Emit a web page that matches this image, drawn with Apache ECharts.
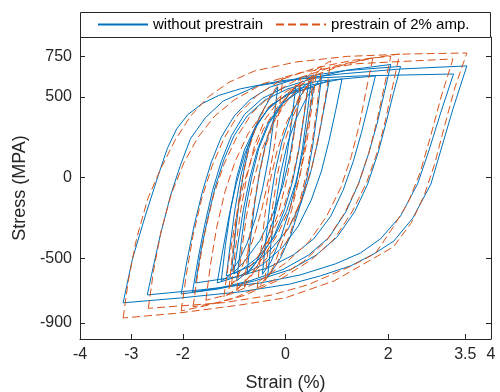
<!DOCTYPE html>
<html>
<head>
<meta charset="utf-8">
<script src="https://cdn.jsdelivr.net/npm/echarts@6/dist/echarts.min.js"></script>
<style>
  html, body { margin: 0; padding: 0; background: #fff; }
  #chart { width: 500px; height: 392px; }
</style>
</head>
<body>
<div id="chart"></div>
<script>
// tick labels
const xTicks = [-4, -3, -2, 0, 2, 3.5, 4];
const yTicks = [-900, -500, 0, 500, 750];
const names = ['without prestrain', 'prestrain of 2% amp.'];

// without prestrain: loops [strain %, stress MPa]
const blueLoop1 = [[-3.16,-776],[-2.98,-505],[-2.73,-238],[-2.48,10],[-2.3,180],[-2.12,300],[-1.9,390],[-1.62,458],[-1.3,508],[-0.88,549],[-0.10,598],[1.07,641],[2.24,672],[3.53,691],
  [3.26,425],[3.02,165],[2.83,-41],[2.48,-250],[2.11,-393],[1.72,-473],[1.27,-547],[0.68,-609],[0.10,-659],[-0.88,-708],[-2.05,-746],[-3.16,-776]];
const blueLoop2 = [[-2.69,-727],[-2.57,-547],[-2.44,-361],[-2.24,-114],[-2.05,72],[-1.85,240],[-1.56,370],[-1.21,474],[-0.55,567],[0.29,611],[1.46,629],[3.27,641],
  [3.02,400],[2.79,165],[2.57,-40],[2.24,-238],[1.85,-380],[1.46,-467],[0.97,-535],[0.29,-603],[-0.49,-653],[-1.66,-696],[-2.69,-727]];
const blueLoop3 = [[-2.03,-721],[-1.92,-520],[-1.78,-300],[-1.62,-90],[-1.45,90],[-1.25,250],[-1.0,380],[-0.7,480],[-0.3,560],[0.3,620],[1.1,660],[2.24,688],
  [2.1,520],[1.95,330],[1.8,150],[1.6,-40],[1.35,-210],[1.0,-370],[0.6,-480],[0.1,-570],[-0.6,-640],[-1.3,-690],[-2.03,-721]];
const blueLoop4 = [[-1.81,-709],[-1.7,-500],[-1.57,-290],[-1.42,-80],[-1.25,100],[-1.05,260],[-0.8,390],[-0.45,490],[0.0,560],[0.6,620],[1.2,665],[2.05,700],
  [1.92,520],[1.78,330],[1.62,150],[1.42,-40],[1.18,-210],[0.85,-370],[0.45,-480],[-0.05,-570],[-0.7,-640],[-1.3,-685],[-1.81,-709]];
const blueLoop5 = [[-1.75,-653],[-1.65,-460],[-1.52,-260],[-1.37,-60],[-1.2,110],[-1.0,260],[-0.75,380],[-0.4,480],[0.05,550],[0.6,595],[1.75,629],
  [1.62,460],[1.48,280],[1.32,100],[1.12,-80],[0.88,-240],[0.55,-380],[0.15,-480],[-0.35,-560],[-0.95,-615],[-1.75,-653]];
const blueLoop6 = [[-1.33,-653],[-1.22,-450],[-1.1,-240],[-0.96,-40],[-0.8,140],[-0.6,300],[-0.35,420],[0.0,510],[0.45,570],[1.1,610],
  [0.98,420],[0.85,230],[0.7,40],[0.5,-140],[0.25,-300],[-0.05,-430],[-0.45,-540],[-0.9,-610],[-1.33,-653]];
const blueLoop7 = [[-1.01,-597],[-0.92,-400],[-0.82,-200],[-0.7,-10],[-0.55,170],[-0.35,330],[-0.1,450],[0.3,540],[0.85,600],
  [0.74,410],[0.62,210],[0.48,20],[0.3,-160],[0.05,-320],[-0.3,-450],[-0.65,-540],[-1.01,-597]];
const blueLoop8 = [[-0.95,-640],[-0.87,-420],[-0.78,-200],[-0.66,0],[-0.52,180],[-0.33,330],[-0.08,450],[0.2,530],[0.45,585],
  [0.36,380],[0.26,170],[0.14,-20],[-0.02,-200],[-0.22,-360],[-0.48,-490],[-0.72,-580],[-0.95,-640]];
const blueLoop9 = [[-0.75,-600],[-0.68,-380],[-0.6,-160],[-0.5,40],[-0.38,220],[-0.22,370],[-0.02,480],[0.2,560],
  [0.12,350],[0.03,140],[-0.08,-60],[-0.22,-250],[-0.4,-410],[-0.58,-530],[-0.75,-600]];
const blueLoop10 = [[-1.15,-610],[-1.07,-400],[-0.98,-190],[-0.87,10],[-0.73,190],[-0.53,340],[-0.28,450],[0.1,520],[0.55,560],
  [0.45,360],[0.34,160],[0.2,-30],[0.02,-210],[-0.22,-370],[-0.52,-490],[-0.85,-570],[-1.15,-610]];
const blueLoop11 = [[-0.35,-620],[-0.28,-400],[-0.2,-180],[-0.1,20],[0.03,200],[0.2,360],[0.42,500],[0.7,620],
  [0.62,410],[0.53,200],[0.42,0],[0.27,-190],[0.1,-360],[-0.1,-500],[-0.35,-620]];
const blueLoop12 = [[-1.05,-580],[-0.98,-360],[-0.9,-140],[-0.8,60],[-0.67,240],[-0.5,380],[-0.32,480],[-0.15,560],
  [-0.23,350],[-0.32,140],[-0.44,-60],[-0.58,-250],[-0.75,-410],[-0.9,-510],[-1.05,-580]];
const blueLoop13 = [[-0.45,-600],[-0.38,-380],[-0.3,-160],[-0.2,40],[-0.07,220],[0.1,380],[0.3,510],[0.5,600],
  [0.42,390],[0.33,180],[0.22,-20],[0.07,-210],[-0.1,-380],[-0.28,-520],[-0.45,-600]];
const blueLoop14 = [[-1.25,-640],[-1.17,-420],[-1.07,-200],[-0.95,0],[-0.8,170],[-0.58,320],[-0.3,440],[0.05,520],[0.3,560],
  [0.2,350],[0.09,140],[-0.05,-50],[-0.25,-230],[-0.5,-390],[-0.8,-520],[-1.05,-600],[-1.25,-640]];

// prestrain of 2% amp.
const redLoop1 = [[-3.16,-870],[-3.06,-640],[-2.9,-380],[-2.68,-130],[-2.42,60],[-2.15,230],[-1.85,380],[-1.5,500],[-1.1,590],[-0.6,660],[0.2,715],[1.2,750],[2.4,765],[3.53,771],
  [3.3,560],[3.08,300],[2.9,80],[2.7,-110],[2.45,-280],[2.1,-430],[1.55,-530],[0.95,-640],[0.0,-745],[-0.9,-790],[-2.1,-840],[-3.16,-870]];
const redLoop2 = [[-2.67,-810],[-2.57,-580],[-2.42,-330],[-2.22,-100],[-1.98,90],[-1.7,250],[-1.38,380],[-1.0,480],[-0.45,580],[0.3,650],[1.4,705],[3.26,734],
  [3.03,500],[2.82,250],[2.62,30],[2.38,-160],[2.05,-330],[1.75,-470],[1.27,-550],[0.43,-665],[-0.3,-730],[-1.2,-775],[-2.67,-810]];
const redLoop3 = [[-2.03,-826],[-1.93,-600],[-1.8,-360],[-1.63,-130],[-1.43,70],[-1.2,240],[-0.92,390],[-0.55,510],[-0.05,610],[0.6,680],[1.3,725],[2.05,752],
  [1.92,560],[1.78,350],[1.62,150],[1.42,-40],[1.15,-220],[0.8,-390],[0.35,-520],[-0.25,-640],[-0.95,-740],[-1.5,-790],[-2.03,-826]];
const redLoop4 = [[-1.8,-800],[-1.7,-580],[-1.57,-340],[-1.4,-110],[-1.2,80],[-0.95,250],[-0.65,400],[-0.25,520],[0.3,620],[0.95,690],[1.6,735],[2.22,765],
  [2.09,570],[1.95,360],[1.79,160],[1.58,-30],[1.3,-210],[0.95,-380],[0.5,-510],[-0.1,-630],[-0.8,-730],[-1.3,-775],[-1.8,-800]];
const redLoop5 = [[-1.55,-760],[-1.46,-540],[-1.34,-310],[-1.18,-90],[-0.98,100],[-0.73,270],[-0.42,410],[0.0,530],[0.55,630],[1.1,695],[1.7,740],
  [1.57,540],[1.44,330],[1.28,130],[1.08,-60],[0.8,-240],[0.45,-400],[0.0,-530],[-0.55,-650],[-1.05,-720],[-1.55,-760]];
const redLoop6 = [[-1.2,-740],[-1.1,-510],[-0.98,-280],[-0.83,-60],[-0.65,130],[-0.43,300],[-0.15,440],[0.2,560],[0.55,660],[0.88,722],
  [0.78,500],[0.66,280],[0.52,70],[0.33,-120],[0.08,-300],[-0.25,-460],[-0.65,-600],[-0.95,-690],[-1.2,-740]];
const redLoop7 = [[-0.95,-700],[-0.86,-470],[-0.76,-240],[-0.63,-30],[-0.47,160],[-0.27,320],[0.0,460],[0.3,570],[0.6,650],
  [0.51,430],[0.41,210],[0.28,10],[0.1,-180],[-0.15,-350],[-0.45,-500],[-0.72,-620],[-0.95,-700]];
const redLoop8 = [[-0.8,-680],[-0.73,-450],[-0.64,-220],[-0.53,-10],[-0.4,180],[-0.22,350],[0.0,480],[0.3,620],
  [0.22,400],[0.13,180],[0.02,-20],[-0.13,-210],[-0.32,-380],[-0.55,-550],[-0.8,-680]];
const redLoop9 = [[-1.1,-690],[-1.03,-460],[-0.95,-230],[-0.85,-20],[-0.72,170],[-0.55,340],[-0.32,490],[-0.05,620],
  [-0.13,400],[-0.22,190],[-0.33,-10],[-0.47,-210],[-0.65,-400],[-0.88,-580],[-1.1,-690]];
const redLoop10 = [[-1.05,-660],[-0.97,-430],[-0.87,-200],[-0.75,10],[-0.6,200],[-0.4,360],[-0.12,480],[0.15,550],[0.45,600],
  [0.36,390],[0.26,180],[0.13,-10],[-0.05,-200],[-0.3,-370],[-0.58,-510],[-0.85,-610],[-1.05,-660]];
const redLoop11 = [[-0.55,-690],[-0.48,-460],[-0.4,-230],[-0.3,-20],[-0.16,170],[0.02,340],[0.3,520],[0.7,680],
  [0.62,460],[0.53,240],[0.42,40],[0.27,-160],[0.08,-360],[-0.18,-540],[-0.55,-690]];
const redLoop12 = [[-0.4,-640],[-0.33,-410],[-0.25,-180],[-0.15,30],[-0.02,220],[0.15,380],[0.35,530],[0.55,640],
  [0.47,420],[0.38,200],[0.27,0],[0.12,-200],[-0.05,-390],[-0.23,-550],[-0.4,-640]];

const blueLoops = [blueLoop1, blueLoop2, blueLoop3, blueLoop4, blueLoop5, blueLoop6, blueLoop7,
  blueLoop8, blueLoop9, blueLoop10, blueLoop11, blueLoop12, blueLoop13, blueLoop14];
const redLoops = [redLoop1, redLoop2, redLoop3, redLoop4, redLoop5, redLoop6, redLoop7,
  redLoop8, redLoop9, redLoop10, redLoop11, redLoop12];

const axisColor = '#262626';
const font = "'Liberation Sans', Arial, Helvetica, sans-serif";

let series = [];
blueLoops.forEach((d) => {
  series.push({
    name: names[0], type: 'line', data: d, showSymbol: false, symbol: 'none',
    lineStyle: { color: '#0072BD', width: 1 }, itemStyle: { color: '#0072BD' },
    animation: false
  });
});
redLoops.forEach((d) => {
  series.push({
    name: names[1], type: 'line', data: d, showSymbol: false, symbol: 'none',
    lineStyle: { color: '#D95319', width: 1, type: [8, 4] }, itemStyle: { color: '#D95319' },
    animation: false
  });
});

let myChart = echarts.init(document.getElementById('chart'));
myChart.setOption({
  animation: false,
  backgroundColor: '#fff',
  grid: { left: 80, right: 9, top: 37, bottom: 53, outerBoundsMode: 'none', containLabel: false },
  legend: {
    data: names,
    left: 97, top: 17,
    itemWidth: 50, itemHeight: 10, itemGap: 12,
    padding: 0,
    // hide the marker dot, keep the line sample
    itemStyle: { color: 'rgba(0,0,0,0)', borderWidth: 0, opacity: 0 },
    textStyle: { fontSize: 15, color: '#000', fontFamily: font }
  },
  graphic: [{
    type: 'rect', z: 10,
    shape: { x: 80.5, y: 12.5, width: 410, height: 25 },
    style: { fill: null, stroke: axisColor, lineWidth: 1 }
  }],
  xAxis: {
    type: 'value', min: -4, max: 4,
    name: 'Strain (%)', nameLocation: 'middle', nameGap: 35,
    nameTextStyle: { fontSize: 18, color: axisColor, fontFamily: font },
    axisLine: { onZero: false, lineStyle: { color: axisColor } },
    axisTick: { inside: true, length: 5, customValues: xTicks, lineStyle: { color: axisColor } },
    axisLabel: { customValues: xTicks, fontSize: 16, color: axisColor, margin: 8, fontFamily: font },
    splitLine: { show: false }
  },
  yAxis: [{
    type: 'value', min: -1000, max: 870, position: 'left',
    name: 'Stress (MPA)', nameLocation: 'middle', nameGap: 38,
    nameTextStyle: { fontSize: 18, color: axisColor, fontFamily: font },
    axisLine: { show: true, onZero: false, lineStyle: { color: axisColor } },
    axisTick: { show: true, inside: true, length: 5, customValues: yTicks, lineStyle: { color: axisColor } },
    axisLabel: { customValues: yTicks, fontSize: 16, color: axisColor, margin: 8, fontFamily: font },
    splitLine: { show: false }
  }, {
    type: 'value', min: -1000, max: 870, position: 'right',
    axisLine: { show: true, onZero: false, lineStyle: { color: axisColor } },
    axisTick: { show: true, inside: true, length: 5, customValues: yTicks, lineStyle: { color: axisColor } },
    axisLabel: { show: false },
    splitLine: { show: false }
  }],
  series: series
});
</script>
</body>
</html>
